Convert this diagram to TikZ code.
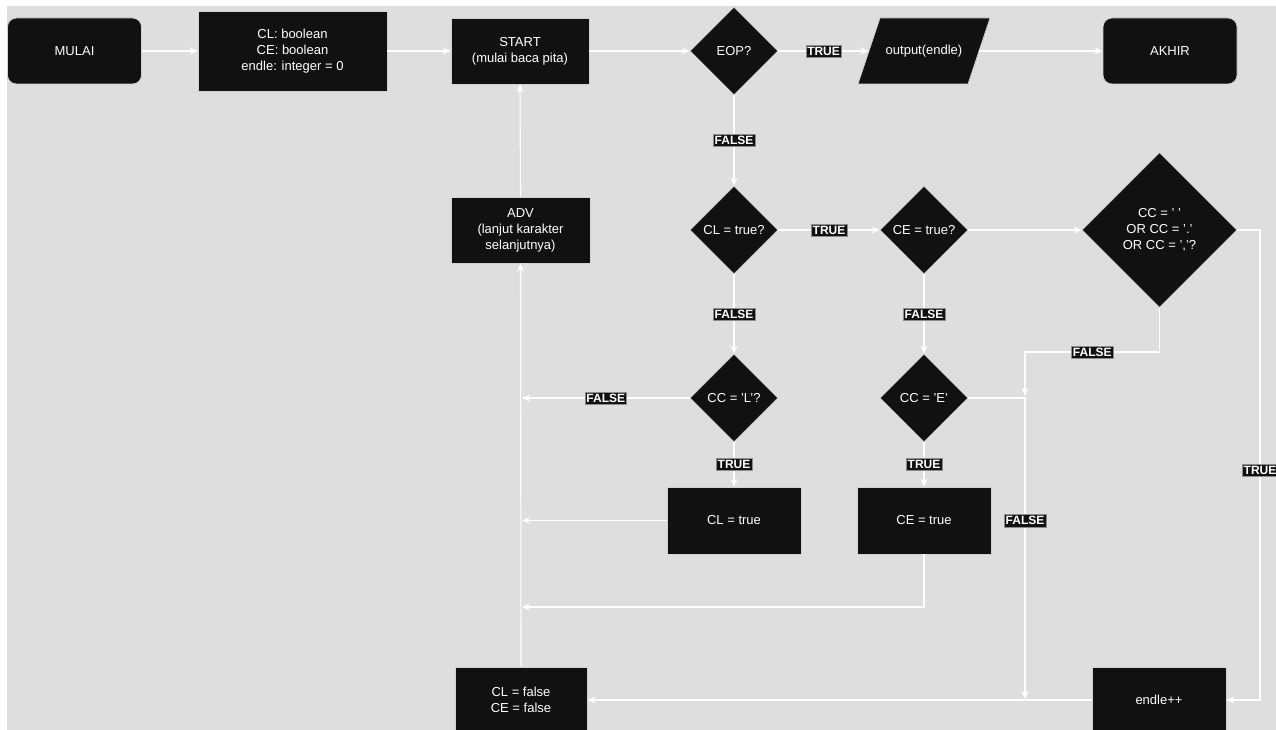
\documentclass[tikz,border=0pt]{standalone}
\usepackage{fontspec}
\setmainfont{Liberation Sans}
\usetikzlibrary{shapes.geometric,arrows.meta}
\definecolor{bggrey}{HTML}{DEDEDE}
\definecolor{nodefill}{HTML}{111111}
\begin{document}
\begin{tikzpicture}[x=1pt,y=-1pt,
  base/.style={draw=white!82!black, line width=0.7pt, fill=nodefill, text=white,
    font=\fontsize{13}{16}\selectfont, align=center, inner sep=0pt},
  procbox/.style={base, rectangle, minimum height=66pt},
  termbox/.style={base, rectangle, rounded corners=9pt, minimum width=134pt, minimum height=66pt},
  decision/.style={base, diamond, aspect=1, minimum width=88pt, minimum height=88pt},
  conn/.style={draw=white, line width=1.1pt, -{Stealth[length=8pt,width=7pt,inset=2.5pt]}},
  lbl/.style={fill=nodefill, text=white, draw=white!55!black, line width=0.5pt,
    font=\fontsize{12}{13}\selectfont\bfseries, inner xsep=1.5pt, inner ysep=2pt}
]
% background
\useasboundingbox (0,0) rectangle (1276,730);
\fill[white] (0,0) rectangle (1276,730);
\fill[bggrey] (7,6) rectangle (1276,730);

% parallelogram outline
\filldraw[fill=nodefill, draw=white!82!black, line width=0.7pt]
  (880,18) -- (990,18) -- (968,84) -- (858,84) -- cycle;

% nodes
\node[termbox] (mulai) at (74.5,51) {MULAI};
\node[procbox, minimum width=189pt, minimum height=80pt] (decl) at (292.5,51)
  {CL: boolean\\CE: boolean\\endle: integer = 0};
\node[procbox, minimum width=138pt] (start) at (520,51) {START\\(mulai baca pita)};
\node[decision] (eop) at (734,51) {EOP?};
\node[text=white, font=\fontsize{13}{16}\selectfont, minimum width=110pt, minimum height=66pt, inner sep=0pt] (out) at (924,51) {output(endle)};
\node[termbox] (akhir) at (1170,51) {AKHIR};

\node[decision] (clq) at (734,230) {CL = true?};
\node[decision] (ceq) at (924,230) {CE = true?};
\node[decision, minimum width=155pt, minimum height=155pt] (ccq) at (1159.5,230)
  {CC = ' '\\OR CC = '.'\\OR CC = ','?};
\node[procbox, minimum width=139pt] (adv) at (520.5,230) {ADV\\(lanjut karakter\\selanjutnya)};

\node[decision] (ccl) at (734,398) {CC = 'L'?};
\node[decision] (cce) at (924,398) {CC = 'E'};

\node[procbox, minimum width=134pt, minimum height=67pt] (cltrue) at (734,520.5) {CL = true};
\node[procbox, minimum width=134pt, minimum height=67pt] (cetrue) at (924,520.5) {CE = true};

\node[procbox, minimum width=132pt] (clfalse) at (521,700) {CL = false\\CE = false};
\node[procbox, minimum width=134pt] (endle) at (1159,700) {endle++};

% helper coordinates
\coordinate (jL) at (522,398);
\coordinate (jCL) at (522,520.5);
\coordinate (jCE) at (522,607);
\coordinate (b1) at (1025,352);
\coordinate (fA) at (1025,396);
\coordinate (jE) at (1025,699);
\coordinate (r1) at (1260,230);
\coordinate (r2) at (1260,700);

% connectors
\draw[conn] (mulai.east) -- (decl.west);
\draw[conn] (decl.east) -- (start.west);
\draw[conn] (start.east) -- (eop.west);
\draw[conn] (eop.east) -- node[lbl]{TRUE} (out.west);
\draw[conn] (out.east) -- (akhir.west);
\draw[conn] (eop.south) -- node[lbl]{FALSE} (clq.north);
\draw[conn] (clq.east) -- node[lbl]{TRUE} (ceq.west);
\draw[conn] (ceq.east) -- (ccq.west);
\draw[conn] (clq.south) -- node[lbl]{FALSE} (ccl.north);
\draw[conn] (ceq.south) -- node[lbl]{FALSE} (cce.north);
\draw[conn] (ccl.south) -- node[lbl]{TRUE} (cltrue.north);
\draw[conn] (cce.south) -- node[lbl]{TRUE} (cetrue.north);
\draw[conn] (ccl.west) -- node[lbl]{FALSE} (jL);
\draw[conn] (cltrue.west) -- (jCL);
\draw[conn] (cetrue.south) |- (jCE);
\draw[conn] (clfalse.north) -- (adv.south);
\draw[conn] (adv.north) -- (start.south);
\draw[conn] (endle.west) -- (clfalse.east);
\draw[conn] (ccq.south) |- node[lbl, pos=0.75]{FALSE} (b1) -- (fA);
\draw[conn] (cce.east) -| node[lbl, pos=0.704]{FALSE} (jE);
\draw[conn] (ccq.east) -- (r1) -- node[lbl, pos=0.511]{TRUE} (r2) -- (endle.east);
\end{tikzpicture}
\end{document}
